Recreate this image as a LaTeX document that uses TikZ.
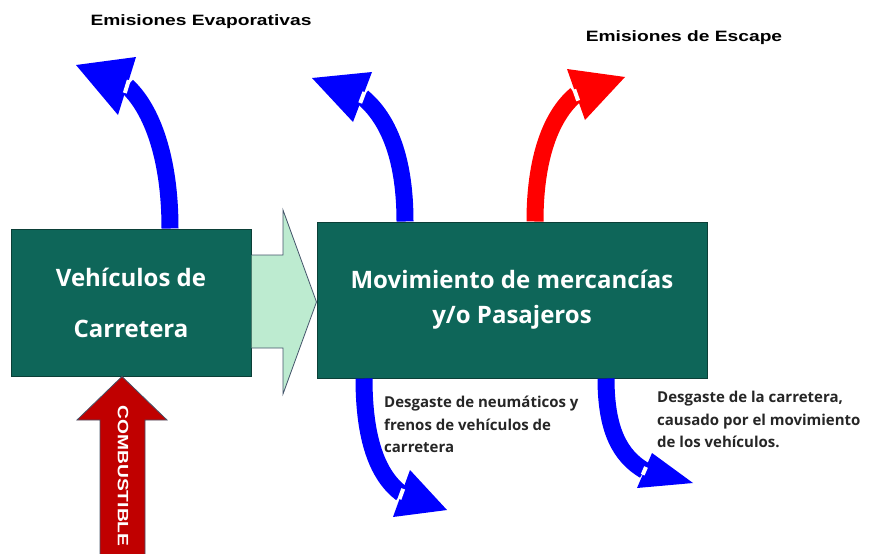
\documentclass[tikz,border=0pt]{standalone}
\usepackage{fontspec}
\newfontfamily\opensans{Open Sans}
\newfontfamily\ancha[FakeStretch=1.28]{Liberation Sans}
\usetikzlibrary{calc, positioning}
\definecolor{verdeosc}{HTML}{0E6659}
\definecolor{bordeosc}{HTML}{0B3F37}
\definecolor{verdecl}{HTML}{BDEBD0}
\definecolor{rojocomb}{HTML}{C00000}
\definecolor{pizarra}{HTML}{44546A}
\definecolor{grisosc}{HTML}{262626}

\begin{document}
\begin{tikzpicture}[x=1pt, y=-1pt, line join=miter,
  caja/.style = {shape=rectangle, draw=bordeosc, fill=verdeosc, line width=1pt,
    text=white, align=center, font=\opensans\bfseries\fontsize{24}{30}\selectfont},
  titulo/.style = {font=\ancha\bfseries\fontsize{15}{18}\selectfont, text=black},
  nota/.style = {anchor=north west, align=left, text=grisosc, inner sep=0pt,
    font=\opensans\bfseries\fontsize{15}{22.5}\selectfont},
  azul/.style = {draw=blue, line width=17pt},
  rojo/.style = {draw=red, line width=17pt},
  muesca/.style = {draw=white, line width=4pt}]
  \useasboundingbox (0,0) rectangle (870,554);

  % cajas
  \node[caja, minimum width=240pt, minimum height=147pt] (veh) at (131,302.5)
    {Vehículos de\\[21pt] Carretera};
  \node[caja, minimum width=390pt, minimum height=156pt] (mov) at (512,300)
    {Movimiento de mercancías\\[5pt] y/o Pasajeros};

  % flecha gruesa entre cajas
  \filldraw[fill=verdecl, draw=pizarra, line width=0.8pt]
    (veh.east |- 0,255) -- (283,255) -- (283,210) -- (mov.west |- 0,302)
    -- (283,394) -- (283,348) -- (veh.east |- 0,348);

  % combustible
  \filldraw[fill=rojocomb, draw=pizarra, line width=0.8pt]
    (veh.south -| 122,0) -- (167,420) -- (145,420) -- (145,560) -- (100,560)
    -- (100,420) -- (77,420) -- cycle;
  \node[rotate=-90, text=white, font=\ancha\bfseries\fontsize{15}{18}\selectfont]
    (comb) at (123,476) {COMBUSTIBLE};

  % emisiones evaporativas (caja 1)
  \coordinate (p1) at (76,65);
  \coordinate (a1) at (136,57);
  \coordinate (b1) at (118,115);
  \coordinate (m1) at ($(a1)!0.5!(b1)$);
  \draw[azul] ([xshift=39pt]veh.north) .. controls (170,150) and (148,105) .. (m1);
  \fill[blue] (p1) -- (a1) -- (b1) -- cycle;
  \draw[muesca] ($(a1)!0.40!(b1)$) -- ($(a1)!0.62!(b1)$);

  % emisiones evaporativas (caja 2)
  \coordinate (p2) at (312,78);
  \coordinate (a2) at (372,72);
  \coordinate (b2) at (353,122);
  \coordinate (m2) at ($(a2)!0.5!(b2)$);
  \draw[azul] (mov.north -| 405,0) .. controls (405,150) and (384,115) .. (m2);
  \fill[blue] (p2) -- (a2) -- (b2) -- cycle;
  \draw[muesca] ($(a2)!0.40!(b2)$) -- ($(a2)!0.62!(b2)$);

  % emisiones de escape
  \coordinate (p3) at (625,77);
  \coordinate (a3) at (567,69);
  \coordinate (b3) at (585,120);
  \coordinate (m3) at ($(a3)!0.5!(b3)$);
  \draw[rojo] (mov.north -| 535,0) .. controls (535,150) and (555,112) .. (m3);
  \fill[red] (p3) -- (a3) -- (b3) -- cycle;
  \draw[muesca] ($(a3)!0.40!(b3)$) -- ($(a3)!0.62!(b3)$);

  % desgaste de neumaticos
  \coordinate (p4) at (447,510);
  \coordinate (a4) at (410,470);
  \coordinate (b4) at (393,517);
  \coordinate (m4) at ($(a4)!0.5!(b4)$);
  \draw[azul] (mov.south -| 364,0) .. controls (364,440) and (378,476) .. (m4);
  \fill[blue] (p4) -- (a4) -- (b4) -- cycle;
  \draw[muesca] ($(a4)!0.40!(b4)$) -- ($(a4)!0.62!(b4)$);

  % desgaste de la carretera
  \coordinate (p5) at (693,483);
  \coordinate (a5) at (652,453);
  \coordinate (b5) at (637,488);
  \coordinate (m5) at ($(a5)!0.5!(b5)$);
  \draw[azul] (mov.south -| 606,0) .. controls (606,430) and (620,456) .. (m5);
  \fill[blue] (p5) -- (a5) -- (b5) -- cycle;
  \draw[muesca] ($(a5)!0.40!(b5)$) -- ($(a5)!0.62!(b5)$);

  % textos
  \node[titulo] (evap) at (201,22) {Emisiones Evaporativas};
  \node[titulo] (esc) at (684,38) {Emisiones de Escape};
  \node[nota] (neum) at (384,396)
    {Desgaste de neumáticos y\\ frenos de vehículos de\\ carretera};
  \node[nota] (carr) at (657,391)
    {Desgaste de la carretera,\\ causado por el movimiento\\ de los vehículos.};
\end{tikzpicture}
\end{document}
